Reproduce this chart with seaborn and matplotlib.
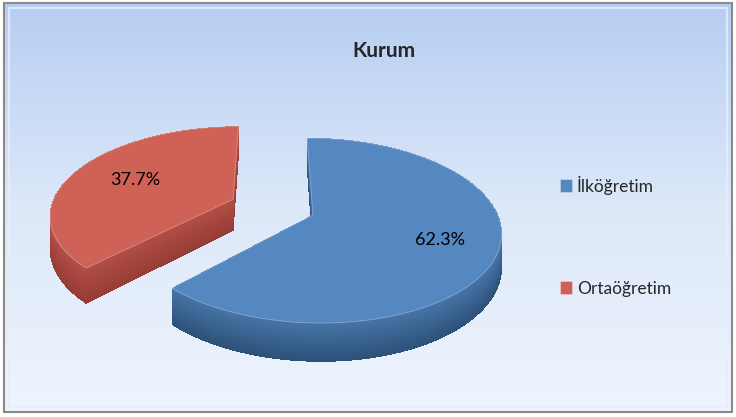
import numpy as np
import matplotlib
matplotlib.use("Agg")
import matplotlib.pyplot as plt
import seaborn as sns
from matplotlib.patches import Rectangle, Polygon
from matplotlib.colors import to_rgb

# chart data
categories = ["İlköğretim", "Ortaöğretim"]
values = [62.3, 37.7]
top_colors = ["#5587c1", "#cf6157"]
side_light = ["#4673a6", "#b04e45"]
side_dark = ["#2c5178", "#963b35"]
title = "Kurum"

sns.set_style("white")
plt.rcParams["font.family"] = ["Lato", "DejaVu Sans"]

fig = plt.figure(figsize=(7.36, 4.17), dpi=100)
fig.patch.set_facecolor("white")

# background panel with a soft vertical gradient
bg = fig.add_axes([0, 0, 1, 1], zorder=0)
grad = np.linspace(0, 1, 256).reshape(-1, 1)
cmap = matplotlib.colors.LinearSegmentedColormap.from_list("bg", ["#b6cef2", "#dde8f9", "#eef4fd"])
bg.imshow(grad, aspect="auto", cmap=cmap, extent=[5 / 736, 731 / 736, 6 / 417, 413 / 417],
          origin="upper")
bg.add_patch(Rectangle((4 / 736, 5 / 417), 728 / 736, 409 / 417, fill=False,
                       edgecolor="#8a8a8a", linewidth=1.5))
bg.add_patch(Rectangle((9 / 736, 10 / 417), 718 / 736, 399 / 417, fill=False,
                       edgecolor="#e6eefb", linewidth=1.2))
bg.set_xlim(0, 1)
bg.set_ylim(0, 1)
bg.axis("off")

# pie axes in projected units: 1 unit = rx px horizontally, ry px vertically
rx, ry = 182.0, 87.3
cx, cy = 272.4, 417 - 207.1
xlo, xhi = -1.45, 1.45
ylo, yhi = -2.0, 1.35
ax = fig.add_axes([(cx + xlo * rx) / 736, (cy + ylo * ry) / 417,
                   (xhi - xlo) * rx / 736, (yhi - ylo) * ry / 417], zorder=1)

persp = 0.165   # simple perspective: the front of the pie looks larger
depth = 0.36
explode = [0.237, 0.237]


def project(x, y, z=0.0):
    w = 1 + persp * np.asarray(y)
    return np.asarray(x) / w, (np.asarray(y) + z) / w


def tilt(wedges, z, **kw):
    # replace the flat pie wedges by projected polygons
    out = []
    for w in wedges:
        t = np.radians(np.linspace(w.theta1, w.theta2, 120))
        xs = np.r_[w.center[0], w.center[0] + w.r * np.cos(t)]
        ys = np.r_[w.center[1], w.center[1] + w.r * np.sin(t)]
        px, py = project(xs, ys, z)
        p = Polygon(np.c_[px, py], closed=True, facecolor=w.get_facecolor(), **kw)
        w.remove()
        ax.add_patch(p)
        out.append(p)
    return out


# side walls: stacked layers, darker towards the bottom
steps = 100
for k in range(steps, 0, -1):
    f = k / steps
    cols = [tuple((1 - f) * np.array(to_rgb(a)) + f * np.array(to_rgb(b)))
            for a, b in zip(side_light, side_dark)]
    wd = ax.pie(values, explode=explode, startangle=90, counterclock=False, colors=cols)[0]
    tilt(wd, -depth * f, linewidth=0, antialiased=False)

wedges, texts, autotexts = ax.pie(values, explode=explode, startangle=90, counterclock=False,
                                  colors=top_colors, autopct="%.1f%%", pctdistance=0.70,
                                  textprops=dict(fontsize=13, color="black"))
label_dist = [0.70, 0.62]
for w, t, d in zip(wedges, autotexts, label_dist):
    x, y = t.get_position()
    x = w.center[0] + (x - w.center[0]) * d / 0.70
    y = w.center[1] + (y - w.center[1]) * d / 0.70
    t.set_position(project(x, y))
    t.set_zorder(5)
handles = tilt(wedges, 0.0, linewidth=0.6, edgecolor="#ffffff55")

ax.set_aspect("auto")
ax.set_xlim(xlo, xhi)
ax.set_ylim(ylo, yhi)
ax.axis("off")

fig.text(384 / 736, 1 - 51 / 417, title, ha="center", va="center",
         fontsize=15, fontweight="bold")

leg = fig.legend(handles, categories, loc="upper left",
                 bbox_to_anchor=(544 / 736, 1 - 160 / 417), frameon=False,
                 fontsize=12.5, labelspacing=4.95, handlelength=0.7, handleheight=0.7,
                 handletextpad=0.3)

fig.savefig("out.png", dpi=100)
